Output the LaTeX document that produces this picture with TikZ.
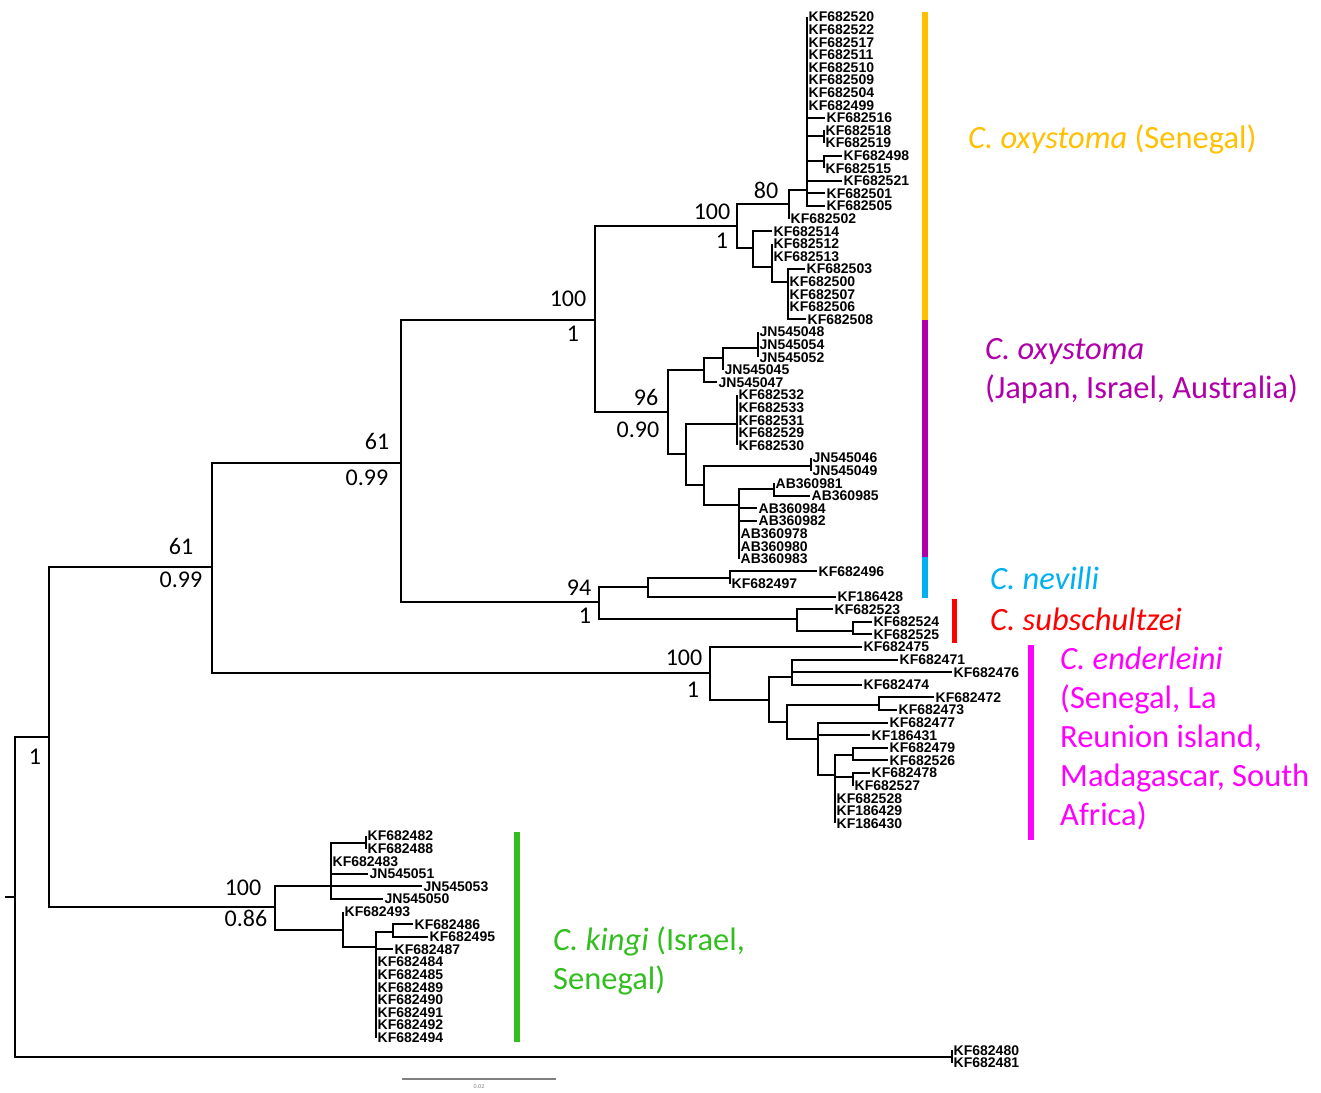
\documentclass[tikz,border=0pt]{standalone}
\usepackage{fontspec}
\setmainfont{Carlito}
\newfontfamily\leaffont{Liberation Sans}
\definecolor{senegal}{RGB}{255,192,0}
\definecolor{japan}{RGB}{176,0,170}
\definecolor{nevilli}{RGB}{0,176,240}
\definecolor{subsch}{RGB}{255,0,0}
\definecolor{enderl}{RGB}{255,0,255}
\definecolor{kingi}{RGB}{50,190,30}
\tikzset{
  branch/.style={line width=2pt},
  leaf/.style={anchor=west, inner sep=1.5pt, font=\leaffont\bfseries\fontsize{14}{14}\selectfont},
  bs/.style={inner sep=0pt, font=\fontsize{24}{24}\selectfont},
  cladebar/.style={line width=6pt},
  clade/.style={anchor=north west, inner sep=0pt, align=left, font=\fontsize{32.5}{39}\selectfont},
}
\begin{document}
\begin{tikzpicture}[x=1pt, y=-1pt]
        \useasboundingbox (0,0) rectangle (1321,1092);
        % internal nodes
        \coordinate (rootStub) at (5,897);
        \coordinate (root) at (15,897);
        \coordinate (nIn) at (49,737);
        \coordinate (nOut) at (952,1057);
        \coordinate (nA) at (212,567);
        \coordinate (nKingi) at (275,907);
        \coordinate (nB) at (401,463);
        \coordinate (nEnd) at (710,673);
        \coordinate (nOxy) at (595,320);
        \coordinate (nNev) at (599,602);
        \coordinate (nSen) at (737,226);
        \coordinate (nJap) at (668,412);
        \coordinate (n80) at (789,204);
        \coordinate (nS1) at (807,190);
        \coordinate (nS1a) at (824,136);
        \coordinate (nS1b) at (824,161);
        \coordinate (nS2) at (753,248);
        \coordinate (nS3) at (772,267);
        \coordinate (nS4) at (788,281.6);
        \coordinate (nJ1) at (704,370);
        \coordinate (nJ2) at (723,358);
        \coordinate (nJ3) at (758,348);
        \coordinate (nJ4) at (686,454);
        \coordinate (nJ5) at (737,424);
        \coordinate (nJ6) at (704,485);
        \coordinate (nJ7) at (811,466);
        \coordinate (nJ8) at (739,505);
        \coordinate (nJ9) at (774,489);
        \coordinate (nN1) at (648,587);
        \coordinate (nN2) at (730,578);
        \coordinate (nSub) at (797,619);
        \coordinate (nSub2) at (853,631);
        \coordinate (nE1) at (769,700);
        \coordinate (nE2) at (792,677);
        \coordinate (nE3) at (787,722);
        \coordinate (nE4) at (879,705);
        \coordinate (nE5) at (818,739);
        \coordinate (nE6) at (835,775);
        \coordinate (nE7) at (853,755);
        \coordinate (nE8) at (853,777);
        \coordinate (nK1) at (331,886);
        \coordinate (nK1a) at (366,843);
        \coordinate (nK2) at (343,930);
        \coordinate (nK3) at (376,947);
        \coordinate (nK4) at (393,932);
        \draw[branch] (rootStub) -- (root);
        \foreach \p/\c in {root/nIn, root/nOut, nIn/nA, nIn/nKingi, nA/nB, nA/nEnd,
            nB/nOxy, nB/nNev, nOxy/nSen, nOxy/nJap, nSen/n80, nSen/nS2, n80/nS1,
            nS1/nS1a, nS1/nS1b, nS2/nS3, nS3/nS4, nJap/nJ1, nJap/nJ4, nJ1/nJ2,
            nJ2/nJ3, nJ4/nJ5, nJ4/nJ6, nJ6/nJ7, nJ6/nJ8, nJ8/nJ9, nNev/nN1,
            nNev/nSub, nN1/nN2, nSub/nSub2, nEnd/nE1, nE1/nE2, nE1/nE3, nE3/nE4,
            nE3/nE5, nE5/nE6, nE6/nE7, nE6/nE8, nKingi/nK1, nKingi/nK2,
            nK1/nK1a, nK2/nK3, nK3/nK4} {
            \draw[branch] (\p) |- (\c);
        }
        % leaves: name / tip x / row / parent
        \foreach \nm/\x/\r/\p in {
            KF682520/807/0/nS1, KF682522/807/1/nS1, KF682517/807/2/nS1, KF682511/807/3/nS1,
            KF682510/807/4/nS1, KF682509/807/5/nS1, KF682504/807/6/nS1, KF682499/807/7/nS1,
            KF682516/825/8/nS1, KF682518/824/9/nS1a, KF682519/824/10/nS1a,
            KF682498/842/11/nS1b, KF682515/824/12/nS1b, KF682521/842/13/nS1,
            KF682501/825/14/nS1, KF682505/825/15/nS1, KF682502/789/16/n80,
            KF682514/772/17/nS2, KF682512/772/18/nS3, KF682513/772/19/nS3,
            KF682503/805/20/nS4, KF682500/788/21/nS4, KF682507/788/22/nS4,
            KF682506/788/23/nS4, KF682508/806/24/nS4,
            JN545048/758/25/nJ3, JN545054/758/26/nJ3, JN545052/758/27/nJ3,
            JN545045/723/28/nJ2, JN545047/717/29/nJ1,
            KF682532/737/30/nJ5, KF682533/737/31/nJ5, KF682531/737/32/nJ5,
            KF682529/737/33/nJ5, KF682530/737/34/nJ5,
            JN545046/811/35/nJ7, JN545049/811/36/nJ7,
            AB360981/774/37/nJ9, AB360985/810/38/nJ9, AB360984/757/39/nJ8,
            AB360982/757/40/nJ8, AB360978/739/41/nJ8, AB360980/739/42/nJ8,
            AB360983/739/43/nJ8,
            KF682496/817/44/nN2, KF682497/730/45/nN2, KF186428/836/46/nN1,
            KF682523/833/47/nSub, KF682524/872/48/nSub2, KF682525/872/49/nSub2,
            KF682475/862/50/nEnd, KF682471/898/51/nE2, KF682476/952/52/nE2,
            KF682474/862/53/nE2, KF682472/934/54/nE4, KF682473/897/55/nE4,
            KF682477/888/56/nE5, KF186431/870/57/nE5, KF682479/888/58/nE7,
            KF682526/888/59/nE7, KF682478/870/60/nE8, KF682527/853/61/nE8,
            KF682528/835/62/nE6, KF186429/835/63/nE6, KF186430/835/64/nE6,
            KF682482/366/65/nK1a, KF682488/366/66/nK1a, KF682483/331/67/nK1,
            JN545051/368/68/nK1, JN545053/422/69/nK1, JN545050/383/70/nK1,
            KF682493/343/71/nK2, KF682486/413/72/nK4, KF682495/428/73/nK4,
            KF682487/393/74/nK3, KF682484/376/75/nK3, KF682485/376/76/nK3,
            KF682489/376/77/nK3, KF682490/376/78/nK3, KF682491/376/79/nK3,
            KF682492/376/80/nK3, KF682494/376/81/nK3,
            KF682480/952/82/nOut, KF682481/952/83/nOut} {
            \node[leaf] (\nm) at (\x,17+12.6*\r) {\nm};
            \draw[branch] (\p) |- (\nm.west);
        }
        % support values
        \node[bs] (sRoot) at (35,757) {1};
        \node[bs] (sAtop) at (181,546) {61};
        \node[bs] (sAbot) at (181,580) {0.99};
        \node[bs] (sBtop) at (377,441) {61};
        \node[bs] (sBbot) at (367,478) {0.99};
        \node[bs] (sOxytop) at (568,299) {100};
        \node[bs] (sOxybot) at (573,334) {1};
        \node[bs] (sNevtop) at (579,588) {94};
        \node[bs] (sNevbot) at (585,616) {1};
        \node[bs] (sSentop) at (712,212) {100};
        \node[bs] (sSenbot) at (722,241) {1};
        \node[bs] (s80) at (766,190) {80};
        \node[bs] (sJaptop) at (646,397) {96};
        \node[bs] (sJapbot) at (638,430) {0.90};
        \node[bs] (sEndtop) at (684,658) {100};
        \node[bs] (sEndbot) at (693,690) {1};
        \node[bs] (sKintop) at (243,888) {100};
        \node[bs] (sKinbot) at (246,918) {0.86};
        % clade bars
        \draw[cladebar, senegal] (925,12) -- (925,320);
        \draw[cladebar, japan] (925,320) -- (925,557);
        \draw[cladebar, nevilli] (925,557) -- (925,598);
        \draw[cladebar, subsch, line width=5pt] (954,599) -- (954,643);
        \draw[cladebar, enderl] (1031,645) -- (1031,840);
        \draw[cladebar, kingi] (517,832) -- (517,1042);
        % clade names
        \node[clade, text=senegal] (lSen) at (968,125) {\textit{C. oxystoma} (Senegal)};
        \node[clade, text=japan] (lJap) at (985,338) {\textit{C. oxystoma}\\(Japan, Israel, Australia)};
        \node[clade, text=nevilli] (lNev) at (990,567) {\textit{C. nevilli}};
        \node[clade, text=subsch] (lSub) at (990,608) {\textit{C. subschultzei}};
        \node[clade, text=enderl] (lEnd) at (1060,647) {\textit{C. enderleini}\\(Senegal, La\\Reunion island,\\Madagascar, South\\Africa)};
        \node[clade, text=kingi] (lKin) at (553,927) {\textit{C. kingi} (Israel,\\Senegal)};
        % scale bar
        \coordinate (sbL) at (402,1079);
        \coordinate (sbR) at (556,1079);
        \draw[gray, line width=1.2pt] (sbL) -- (sbR);
        \node[font=\fontsize{6}{6}\selectfont, text=gray, inner sep=0pt] (sbText) at (479,1087) {0.02};
\end{tikzpicture}
\end{document}
